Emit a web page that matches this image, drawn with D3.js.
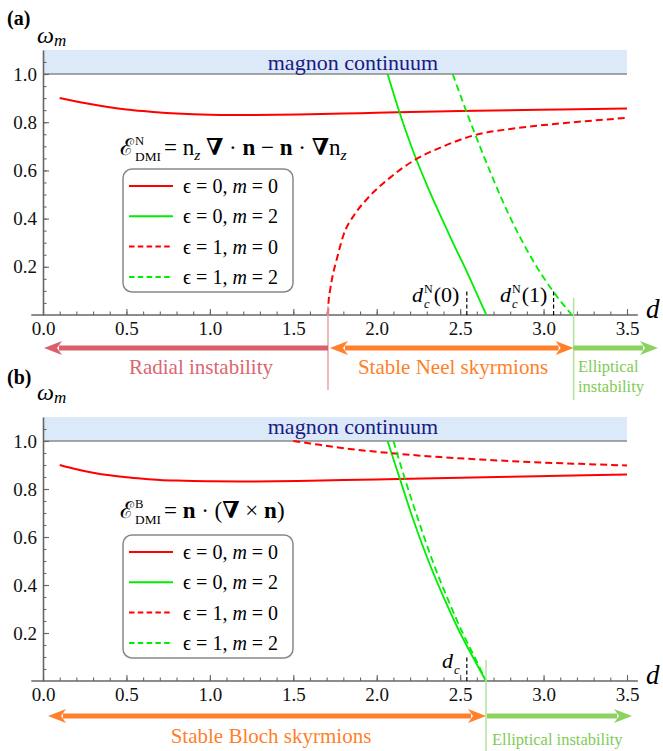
<!DOCTYPE html>
<html>
<head>
<meta charset="utf-8">
<script src="https://cdn.jsdelivr.net/npm/d3@7"></script>
<style>
body { margin: 0; background: #fff; }
text { font-family: "Liberation Serif", "DejaVu Serif", serif; }
</style>
</head>
<body>
<script>
// tick values
var dTicks = [0, 0.5, 1.0, 1.5, 2.0, 2.5, 3.0, 3.5];
var wTicks = [0.2, 0.4, 0.6, 0.8, 1.0];
var legendEps = ["0", "0", "1", "1"];
var legendM = ["0", "2", "0", "2"];

// panel (a), Neel DMI: [d, omega]
var aRed0 = [[0.1,0.900],[0.2,0.886],[0.3,0.873],[0.4,0.862],[0.5,0.853],[0.6,0.846],[0.7,0.840],[0.8,0.836],[0.9,0.833],[1.0,0.831],[1.1,0.830],[1.2,0.830],[1.4,0.831],[1.6,0.833],[1.8,0.836],[2.0,0.839],[2.2,0.842],[2.5,0.846],[2.8,0.850],[3.1,0.853],[3.5,0.857]];
var aGreen0 = [[2.065,1.0],[2.13,0.855],[2.21,0.695],[2.30,0.54],[2.38,0.415],[2.46,0.295],[2.54,0.18],[2.60,0.088],[2.657,0.0]];
var aRed1 = [[1.708,0.0],[1.711,0.05],[1.72,0.10],[1.735,0.16],[1.76,0.23],[1.80,0.33],[1.87,0.42],[1.94,0.48],[2.08,0.57],[2.22,0.64],[2.40,0.70],[2.58,0.745],[2.80,0.772],[3.00,0.788],[3.25,0.804],[3.50,0.818]];
var aGreen1 = [[2.455,1.0],[2.54,0.84],[2.65,0.645],[2.75,0.48],[2.85,0.335],[2.95,0.21],[3.05,0.105],[3.17,0.0]];
var aRadial = 1.708, aEllip = 3.18, aDc0 = 2.54, aDc1 = 3.06;

// panel (b), Bloch DMI
var bRed0 = [[0.1,0.900],[0.2,0.882],[0.3,0.868],[0.4,0.857],[0.5,0.849],[0.6,0.843],[0.7,0.838],[0.8,0.835],[0.9,0.833],[1.0,0.832],[1.2,0.831],[1.4,0.832],[1.6,0.834],[1.8,0.837],[2.0,0.840],[2.2,0.843],[2.5,0.847],[2.8,0.851],[3.1,0.855],[3.5,0.860]];
var bGreen0 = [[2.065,1.0],[2.14,0.84],[2.215,0.68],[2.31,0.5],[2.41,0.335],[2.50,0.2],[2.58,0.095],[2.655,0.0]];
var bRed1 = [[1.50,1.0],[1.60,0.99],[1.78,0.972],[2.00,0.955],[2.14,0.946],[2.38,0.933],[2.70,0.92],[3.00,0.91],[3.25,0.904],[3.50,0.898]];
var bGreen1 = [[2.10,1.0],[2.17,0.84],[2.245,0.68],[2.335,0.5],[2.43,0.335],[2.515,0.2],[2.59,0.095],[2.655,0.0]];
var bEllip = 2.655, bDc = 2.54;

var RED = "#ff0000", GREEN = "#00ee00";
var SERIF = "'Liberation Serif', 'DejaVu Serif', serif";
var svg = d3.select("body").append("svg").attr("width", 663).attr("height", 751);
var x = d3.scaleLinear().domain([0, 3.5]).range([43, 627]);

// base glyph followed by stacked super/subscripts, returns end x
function stacked(g, x0, y0, fs, base, baseStyle, sup, sub, subStyle) {
    var b = g.append("text").attr("x", x0).attr("y", y0).style("font-size", fs + "px")
        .style("font-style", baseStyle).text(base);
    var w = b.node().getComputedTextLength();
    var w2 = 0;
    if (sup) {
        var s = g.append("text").attr("x", x0 + w + 1).attr("y", y0 - fs * 0.42)
            .style("font-size", (fs * 0.55) + "px").text(sup);
        w2 = Math.max(w2, s.node().getComputedTextLength());
    }
    if (sub) {
        var t = g.append("text").attr("x", x0 + w + 1).attr("y", y0 + fs * 0.25)
            .style("font-size", (fs * 0.58) + "px").style("font-style", subStyle).text(sub);
        w2 = Math.max(w2, t.node().getComputedTextLength());
    }
    return x0 + w + 1 + w2;
}

// parts: [text, kind] kind = "", "b" bold, "s" italic subscript
function mathRun(g, x0, y0, fs, parts) {
    var t = g.append("text").attr("x", x0).attr("y", y0).style("font-size", fs + "px");
    var shifted = false;
    parts.forEach(function(p) {
        var ts = t.append("tspan").text(p[0]);
        if (p[1] == "b") ts.style("font-weight", "bold");
        if (p[1] == "s") {
            ts.style("font-style", "italic").style("font-size", (fs * 0.68) + "px").attr("dy", 5);
            shifted = true;
        } else if (shifted) {
            ts.attr("dy", -5);
            shifted = false;
        }
    });
    return t;
}

function arrow(g, x1, x2, y, color, headL, headR) {
    var hl = 18, hw = 7, lw = 5;
    var a = headL ? x1 + hl - 3 : x1, b = headR ? x2 - hl + 3 : x2;
    g.append("line").attr("x1", a).attr("x2", b).attr("y1", y).attr("y2", y)
        .attr("stroke", color).attr("stroke-width", lw);
    if (headL) g.append("path").attr("fill", color)
        .attr("d", "M" + x1 + "," + y + "L" + (x1 + hl) + "," + (y - hw) + "L" + (x1 + hl - 5) + "," + y + "L" + (x1 + hl) + "," + (y + hw) + "Z");
    if (headR) g.append("path").attr("fill", color)
        .attr("d", "M" + x2 + "," + y + "L" + (x2 - hl) + "," + (y - hw) + "L" + (x2 - hl + 5) + "," + y + "L" + (x2 - hl) + "," + (y + hw) + "Z");
}

function drawPanel(p) {
    var g = svg.append("g");
    var y = d3.scaleLinear().domain([0, 1.1]).range([p.y0, p.y0 - 1.1 * p.unit]);

    // magnon continuum band
    g.append("rect").attr("x", x(0)).attr("y", y(1.1)).attr("width", x(3.5) - x(0))
        .attr("height", y(1.0) - y(1.1)).attr("fill", "#dbe9f8");
    g.append("line").attr("x1", x(0)).attr("x2", x(3.5)).attr("y1", y(1)).attr("y2", y(1))
        .attr("stroke", "#8a8a8a").attr("stroke-width", 1.5);
    g.append("text").attr("x", 353).attr("y", p.magY).attr("text-anchor", "middle")
        .style("font-size", "22px").attr("fill", "#1a1a85").text("magnon continuum");

    // axes
    var xa = g.append("g").attr("transform", "translate(0," + p.y0 + ")")
        .call(d3.axisBottom(x).tickValues(dTicks).tickFormat(d3.format(".1f"))
            .tickSizeInner(-6).tickSizeOuter(0).tickPadding(7));
    xa.select(".domain").remove();
    var xm = g.append("g").attr("transform", "translate(0," + p.y0 + ")")
        .call(d3.axisBottom(x).tickValues(d3.range(0, 36).map(function(i) { return i / 10; }))
            .tickFormat("").tickSizeInner(-3.5).tickSizeOuter(0));
    xm.select(".domain").remove();
    g.append("line").attr("x1", x(-0.07)).attr("x2", x(3.565)).attr("y1", p.y0).attr("y2", p.y0)
        .attr("stroke", "#666").attr("stroke-width", 1.6);

    var ya = g.append("g").attr("transform", "translate(" + x(0) + ",0)")
        .call(d3.axisLeft(y).tickValues(wTicks).tickFormat(d3.format(".1f"))
            .tickSizeInner(-6).tickSizeOuter(0).tickPadding(6));
    ya.select(".domain").attr("stroke", "#666").attr("stroke-width", 1.6);
    g.append("g").attr("transform", "translate(" + x(0) + ",0)")
        .call(d3.axisLeft(y).tickValues(d3.range(1, 22).map(function(i) { return i * 0.05; }))
            .tickFormat("").tickSizeInner(-3.5).tickSizeOuter(0))
        .select(".domain").remove();
    xa.attr("font-family", SERIF).attr("font-size", 19);
    ya.attr("font-family", SERIF).attr("font-size", 19);
    g.selectAll(".tick line").attr("stroke", "#666").attr("stroke-width", 1.1);
    g.selectAll(".tick text").attr("fill", "#111");

    g.append("text").attr("x", 646).attr("y", p.y0 + 3).style("font-size", "27px")
        .style("font-style", "italic").text("d");
    var om = g.append("text").attr("x", 37).attr("y", p.omY).style("font-size", "24px").style("font-style", "italic");
    om.append("tspan").text("ω");
    om.append("tspan").attr("dy", 3).style("font-size", "17px").text("m");
    g.append("text").attr("x", 7).attr("y", p.labY).style("font-size", "20px")
        .style("font-weight", "bold").text(p.label);

    // curves
    var line = d3.line().x(function(d) { return x(d[0]); }).y(function(d) { return y(d[1]); })
        .curve(d3.curveMonotoneX);
    var series = [[p.red0, RED, null, 2], [p.green0, GREEN, null, 1.8],
                  [p.red1, RED, "7,4", 2], [p.green1, GREEN, "7,4", 1.8]];
    series.forEach(function(s) {
        g.append("path").datum(s[0]).attr("d", line).attr("fill", "none")
            .attr("stroke", s[1]).attr("stroke-width", s[3]).attr("stroke-dasharray", s[2]);
    });

    // critical d markers
    p.dcs.forEach(function(dc) {
        g.append("line").attr("x1", x(dc.d)).attr("x2", x(dc.d)).attr("y1", p.y0).attr("y2", p.y0 - 24)
            .attr("stroke", "#000").attr("stroke-width", 1.2).attr("stroke-dasharray", "4,2.5");
        var ex = stacked(g, dc.tx, p.y0 - 13, 22, "d", "italic", dc.sup, "c", "italic");
        if (dc.rest) g.append("text").attr("x", ex + 1).attr("y", p.y0 - 13).style("font-size", "22px").text(dc.rest);
    });

    // formula
    var fx = stacked(g, 120, p.fY, 23, "ℰ", "normal", p.sup, "DMI", "normal");
    mathRun(g, fx + 3, p.fY, 23, p.formula);

    // legend
    var ly = p.y0 - 146;
    g.append("rect").attr("x", 123).attr("y", ly).attr("width", 170).attr("height", 123)
        .attr("rx", 9).attr("fill", "#fff").attr("stroke", "#888").attr("stroke-width", 1.5);
    series.forEach(function(s, i) {
        var ry = ly + 17 + i * 30.3;
        g.append("line").attr("x1", 129).attr("x2", 173).attr("y1", ry).attr("y2", ry)
            .attr("stroke", s[1]).attr("stroke-width", 2).attr("stroke-dasharray", s[2] ? "5.5,3.3" : null);
        var t = g.append("text").attr("x", 183).attr("y", ry + 7).style("font-size", "20px");
        t.append("tspan").text("ϵ = " + legendEps[i] + ", ");
        t.append("tspan").style("font-style", "italic").text("m");
        t.append("tspan").text(" = " + legendM[i]);
    });

    // stability regions
    p.regions(g, y);
}

drawPanel({
    y0: 315, unit: 241, magY: 70, omY: 43, labY: 25, label: "(a)", fY: 155, sup: "N",
    red0: aRed0, green0: aGreen0, red1: aRed1, green1: aGreen1,
    formula: [[" = n", ""], ["z", "s"], [" ", ""], ["∇", "b"], [" · ", ""], ["n", "b"], [" − ", ""],
              ["n", "b"], [" · ", ""], ["∇", "b"], ["n", ""], ["z", "s"]],
    dcs: [{d: aDc0, tx: 412, sup: "N", rest: "(0)"}, {d: aDc1, tx: 500, sup: "N", rest: "(1)"}],
    regions: function(g, y) {
        var ay = 348;
        g.append("line").attr("x1", x(aRadial)).attr("x2", x(aRadial)).attr("y1", 306).attr("y2", 390)
            .attr("stroke", "#e9a3aa").attr("stroke-width", 1.5);
        g.append("line").attr("x1", x(aEllip)).attr("x2", x(aEllip)).attr("y1", 298).attr("y2", 400)
            .attr("stroke", "#b2e39c").attr("stroke-width", 1.5);
        arrow(g, x(0) + 1, x(aRadial), ay, "#d9606a", true, false);
        arrow(g, x(aRadial) + 2, x(aEllip), ay, "#ff7f2a", true, true);
        arrow(g, x(aEllip), 658, ay, "#8cd25e", false, true);
        g.append("text").attr("x", 201).attr("y", 374).attr("text-anchor", "middle")
            .style("font-size", "21px").attr("fill", "#db6670").text("Radial instability");
        g.append("text").attr("x", 453).attr("y", 374).attr("text-anchor", "middle")
            .style("font-size", "21px").attr("fill", "#ff7f2a").text("Stable Neel skyrmions");
        g.append("text").attr("x", 578).attr("y", 372).style("font-size", "16.5px")
            .attr("fill", "#80cc55").text("Elliptical");
        g.append("text").attr("x", 578).attr("y", 392).style("font-size", "16.5px")
            .attr("fill", "#80cc55").text("instability");
    }
});

drawPanel({
    y0: 681, unit: 240, magY: 434, omY: 400, labY: 384, label: "(b)", fY: 518, sup: "B",
    red0: bRed0, green0: bGreen0, red1: bRed1, green1: bGreen1,
    formula: [[" = ", ""], ["n", "b"], [" · (", ""], ["∇", "b"], [" × ", ""], ["n", "b"], [")", ""]],
    dcs: [{d: bDc, tx: 442, sup: null, rest: null}],
    regions: function(g, y) {
        var ay = 716;
        g.append("line").attr("x1", x(bEllip)).attr("x2", x(bEllip)).attr("y1", 660).attr("y2", 751)
            .attr("stroke", "#b2e39c").attr("stroke-width", 1.5);
        arrow(g, x(0) + 5, x(bEllip), ay, "#ff7f2a", true, true);
        arrow(g, x(bEllip) + 1, 632, ay, "#8cd25e", false, true);
        g.append("text").attr("x", 271).attr("y", 743).attr("text-anchor", "middle")
            .style("font-size", "21px").attr("fill", "#ff7f2a").text("Stable Bloch skyrmions");
        g.append("text").attr("x", 492).attr("y", 745).style("font-size", "16.5px")
            .attr("fill", "#80cc55").text("Elliptical instability");
    }
});
</script>
</body>
</html>
